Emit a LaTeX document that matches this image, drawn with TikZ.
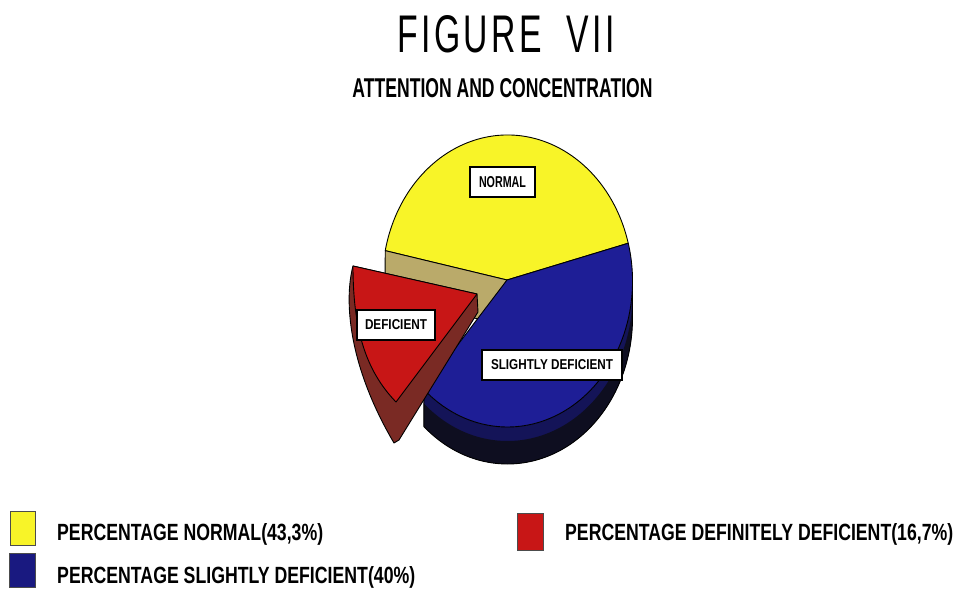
\documentclass[tikz,border=0pt]{standalone}
\usepackage{fontspec}
\setmainfont{Liberation Sans}
\newfontfamily\titlefont[LetterSpace=10]{Liberation Sans}
\usepackage{graphicx}
\usetikzlibrary{calc}
\definecolor{pieyellow}{RGB}{248,244,40}
\definecolor{pieblue}{RGB}{30,30,150}
\definecolor{navywall}{RGB}{20,20,88}
\definecolor{blackband}{RGB}{14,14,32}
\definecolor{piered}{RGB}{200,22,22}
\definecolor{maroon}{RGB}{122,42,36}
\definecolor{tanwall}{RGB}{186,170,106}
\tikzset{
  outline/.style={draw=black, line width=0.9pt, line join=round},
  lbl/.style={draw=black, fill=white, line width=1.1pt, inner sep=0pt},
  sq/.style={draw=black!70, line width=0.6pt, inner sep=0pt},
  txt/.style={inner sep=0pt, anchor=base west},
  earc/.style={x radius=125pt, y radius=146pt}
}
\begin{document}
\begin{tikzpicture}[x=1pt,y=1pt]
\useasboundingbox (0,0) rectangle (962,590);
\fill[white] (0,0) rectangle (962,590);
% geometry
\coordinate (E) at (507.5,309);
\coordinate (C) at (507,310);
\coordinate (P15) at ($(E)+(15:125pt and 146pt)$);
\coordinate (P168) at ($(E)+(168:125pt and 146pt)$);
\coordinate (P228) at ($(E)+(228:125pt and 146pt)$);
\coordinate (Q) at (483,270);
\coordinate (R) at (385,292);
% yellow slice
\fill[pieyellow] (C) -- (P15) arc[start angle=15, end angle=168, earc] -- cycle;
\draw[outline] (P15) arc[start angle=15, end angle=168, earc] -- (C) -- cycle;
% tan exposed wall
\filldraw[fill=tanwall, outline] (P168) -- (C) -- (Q) -- (R) -- cycle;
% blue side wall
\fill[navywall] (P228) arc[start angle=228, end angle=360, earc] -- ++(0,-37)
   arc[start angle=360, end angle=228, earc] -- cycle;
\fill[blackband] ($(P228)+(0,-14)$) arc[start angle=228, end angle=360, earc] -- ++(0,-23)
   arc[start angle=360, end angle=228, earc] -- cycle;
\draw[outline] (P228) -- ++(0,-37) arc[start angle=228, end angle=360, earc] -- ++(0,37);
% blue top face
\filldraw[fill=pieblue, outline] (C) -- (P15) arc[start angle=15, end angle=-132, earc] -- cycle;
% exploded red slice
\coordinate (A) at (353,324);
\coordinate (B) at (477,296);
\coordinate (T) at (396,188);
\coordinate (Tb) at (394,147);
\coordinate (Tr) at (399,150);
\coordinate (Bw) at (478,278);
\filldraw[fill=maroon, outline] (A) .. controls (344,290) and (348,225) .. (Tb) -- (Tr) -- (Bw) -- (B) -- cycle;
\filldraw[fill=piered, outline] (A) -- (B) -- (T) .. controls (365,220) and (353,262) .. (A) -- cycle;
% slice labels
\node[lbl, minimum width=65pt, minimum height=30pt] (lnormal) at (502.5,408)
  {\resizebox{47pt}{11pt}{\bfseries NORMAL}};
\node[lbl, minimum width=78pt, minimum height=30pt] (ldef) at (396,265)
  {\resizebox{62pt}{10pt}{\bfseries DEFICIENT}};
\node[lbl, minimum width=140pt, minimum height=30pt] (lslight) at (552,225)
  {\resizebox{122pt}{10pt}{\bfseries SLIGHTLY DEFICIENT}};
% titles
\node[inner sep=0pt, anchor=base] (title) at (506,537)
  {\resizebox{217pt}{37pt}{\titlefont FIGURE\hspace{0.35em} VII}};
\node[inner sep=0pt, anchor=base] (subtitle) at (502.5,492)
  {\resizebox{300pt}{19pt}{\bfseries ATTENTION AND CONCENTRATION}};
% legend
\node[sq, fill=pieyellow, minimum width=25pt, minimum height=34pt] (sqy) at (22.5,62) {};
\node[sq, fill=pieblue!85!black, minimum width=26pt, minimum height=34pt] (sqb) at (22,20) {};
\node[sq, fill=piered, minimum width=26pt, minimum height=37pt] (sqr) at (530,58.5) {};
\node[txt] (t1) at (57,50) {\resizebox{266pt}{17pt}{\bfseries PERCENTAGE NORMAL(43,3\%)}};
\node[txt] (t2) at (57,7) {\resizebox{358pt}{17pt}{\bfseries PERCENTAGE SLIGHTLY DEFICIENT(40\%)}};
\node[txt] (t3) at (565,50) {\resizebox{388pt}{17pt}{\bfseries PERCENTAGE DEFINITELY DEFICIENT(16,7\%)}};
\end{tikzpicture}
\end{document}
